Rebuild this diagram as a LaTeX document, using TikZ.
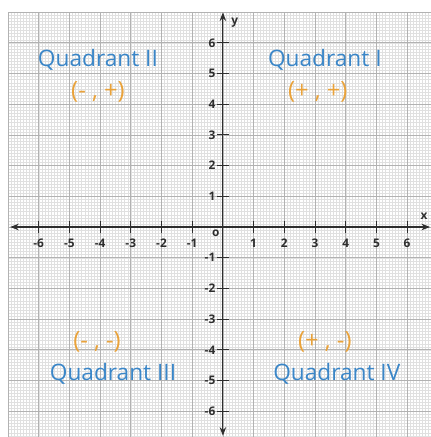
\documentclass[tikz,border=0pt]{standalone}
\usepackage{fontspec}
\setsansfont{Open Sans}
\usepackage{tikz}
\usetikzlibrary{positioning,arrows.meta}

\definecolor{quadblue}{HTML}{3A86C8}
\definecolor{signorange}{HTML}{E9A23A}
\definecolor{minorgrid}{HTML}{E0E0E0}
\definecolor{majorgrid}{HTML}{B2B2B2}
\definecolor{axisgray}{HTML}{2E2E2E}

\tikzset{
  quadlabel/.style={text=quadblue,font=\sffamily\fontsize{21}{23}\selectfont},
  signlabel/.style={text=signorange,font=\sffamily\fontsize{22}{24}\selectfont},
  ticklabel/.style={text=axisgray,font=\sffamily\bfseries\fontsize{11}{12}\selectfont,inner sep=0pt},
  axisline/.style={axisgray,line width=1pt,{Stealth[length=8pt,width=6pt]}-{Stealth[length=8pt,width=6pt]}},
  tickmark/.style={axisgray,line width=0.8pt},
}

\begin{document}
\begin{tikzpicture}
  \useasboundingbox (-7.26,-6.84) rectangle (6.775,7.394);
  % graph paper
  \draw[minorgrid,line width=0.3pt,step=0.1] (-7,-6.84) grid (6.775,7);
  \draw[majorgrid,line width=0.6pt,step=1] (-7,-6.84) grid (6.775,7);

  % axes
  \coordinate (xl) at (-6.93,0); \coordinate (xr) at (6.75,0);
  \coordinate (yt) at (0,6.99);  \coordinate (yb) at (0,-6.8);
  \draw[axisline] (xl) -- (xr);
  \draw[axisline] (yb) -- (yt);
  \node[ticklabel] (xname) at (6.55,0.36) {x};
  \node[ticklabel] (yname) at (0.39,6.67) {y};
  \node[ticklabel] (orig) at (-0.23,-0.2) {o};

  \foreach \i in {-6,...,-1,1,2,...,6}{
    \draw[tickmark] (\i,-0.2) -- (\i,0.2);
    \draw[tickmark] (-0.2,\i) -- (0.2,\i);
    \node[ticklabel] (xt\i) at (\i,-0.52) {\i};
    \node[ticklabel,anchor=east] (yt\i) at (-0.24,\i) {\i};
  }

  % quadrants
  \node[quadlabel] (q2) at (-4.07,5.44) {Quadrant II};
  \node[signlabel] (s2) at (-4.07,4.40) {(- , +)};
  \node[quadlabel] (q1) at (3.32,5.44) {Quadrant I};
  \node[signlabel] (s1) at (3.09,4.40) {(+ , +)};
  \node[signlabel] (s3) at (-4.10,-3.75) {(- , -)};
  \node[quadlabel] (q3) at (-3.58,-4.79) {Quadrant III};
  \node[signlabel] (s4) at (3.32,-3.75) {(+ , -)};
  \node[quadlabel] (q4) at (3.71,-4.79) {Quadrant IV};
\end{tikzpicture}
\end{document}
